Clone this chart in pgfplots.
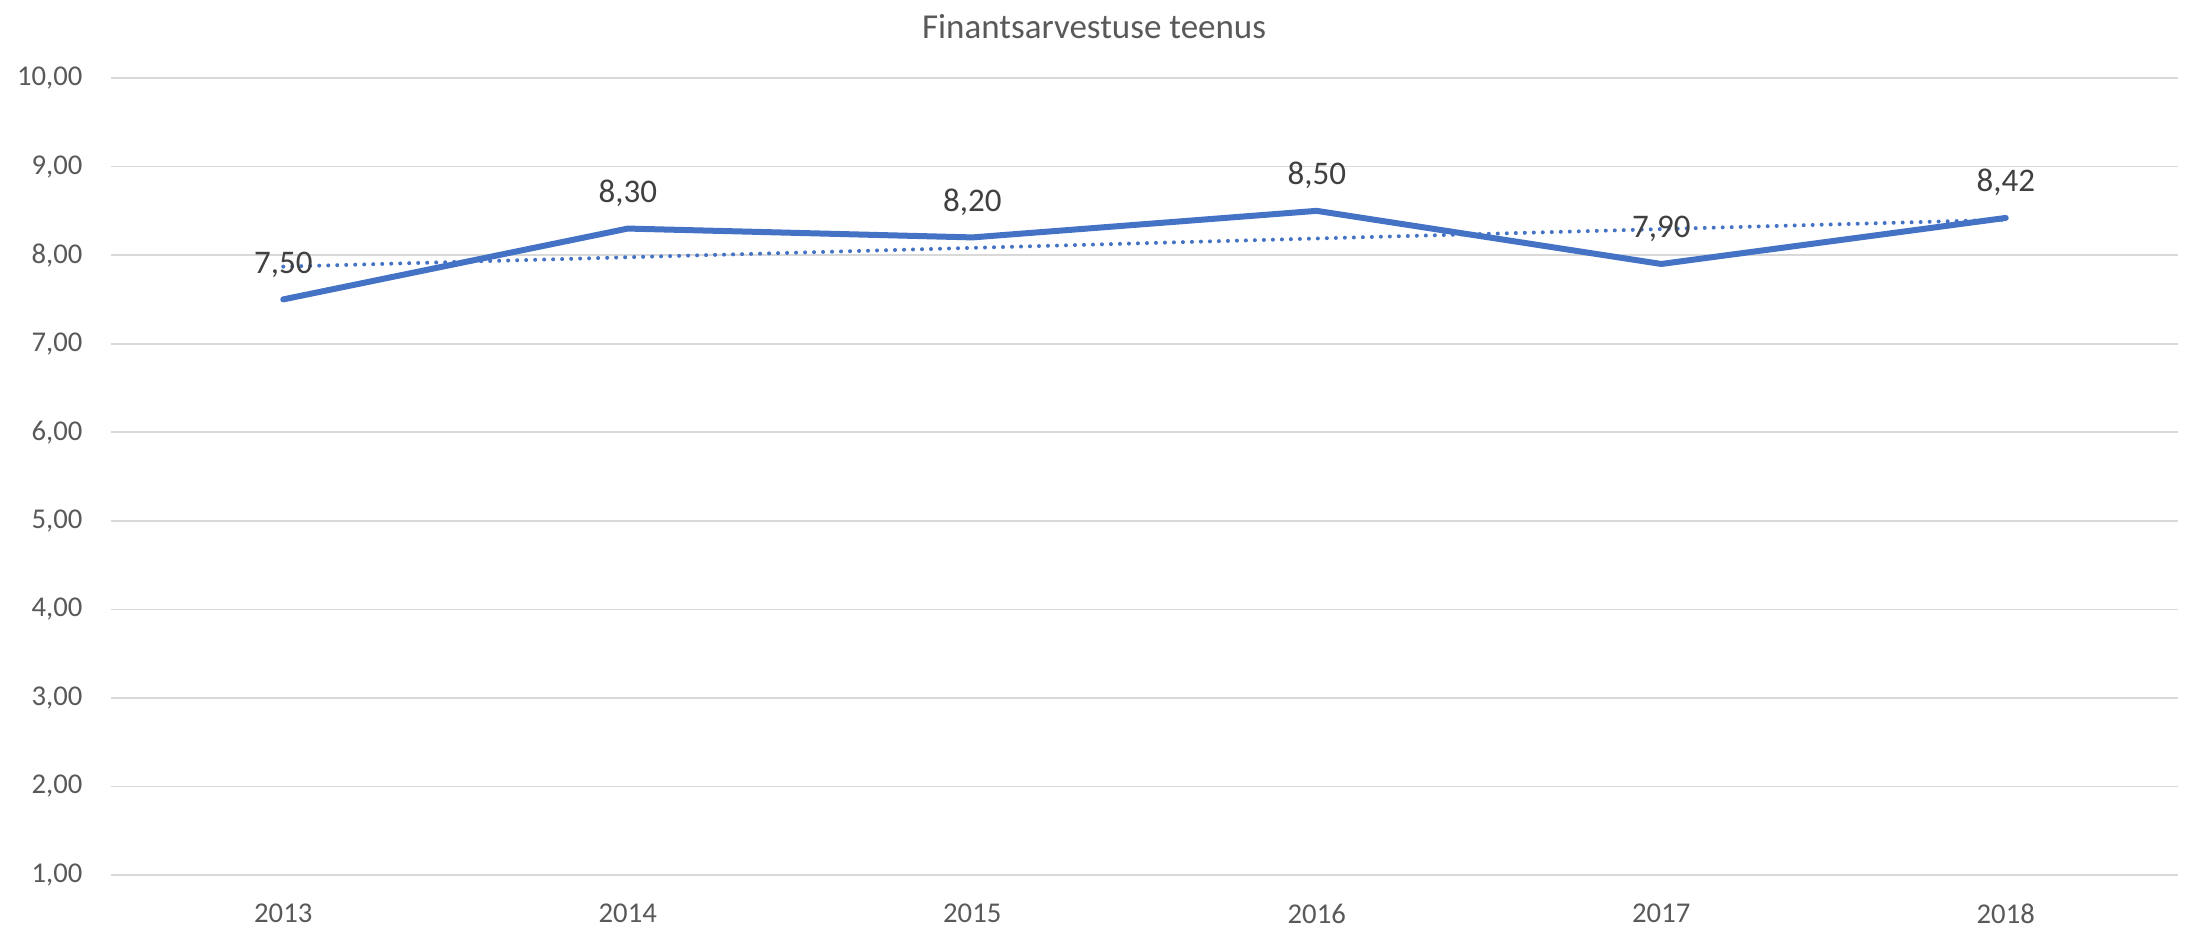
\documentclass[border=0pt]{standalone}
\usepackage{pgfplots}
\pgfplotsset{compat=1.18}
\usepackage{fontspec}
\setmainfont{Carlito}
\definecolor{lineblue}{HTML}{4472C4}
\definecolor{gridgray}{HTML}{D9D9D9}
\definecolor{ticktext}{HTML}{595959}
\definecolor{labeltext}{HTML}{404040}
\begin{document}
\begin{tikzpicture}
\path[use as bounding box] (0,0) rectangle (656.4pt,278.1pt);
\begin{axis}[
  at={(33.3pt,15.6pt)}, anchor=south west,
  scale only axis, width=620.1pt, height=239.1pt,
  xmin=-0.5, xmax=5.5, ymin=1, ymax=10,
  xtick={0,1,2,3,4,5},
  xticklabels={2013,2014,2015,2016,2017,2018},
  ytick={1,2,3,4,5,6,7,8,9,10},
  major tick length=0pt,
  axis line style={draw=none},
  ymajorgrids,
  grid style={gridgray, line width=0.5pt},
  clip=false,
  /pgf/number format/.cd, fixed, fixed zerofill, precision=2, use comma, assume math mode=true,
  /pgfplots/.cd,
  yticklabel style={font=\fontsize{8.6}{10}\selectfont, text=ticktext, anchor=east, inner sep=0pt, xshift=-8.4pt},
  xticklabel style={font=\fontsize{8.6}{10}\selectfont, text=ticktext, anchor=north, inner sep=0pt, yshift=-8.4pt},
]
\addplot[lineblue, line width=1.2pt, line cap=round, dash pattern=on 0pt off 2.7pt]
  coordinates {(0,7.87) (5,8.40)};
\addplot[lineblue, line width=1.8pt, line cap=round, line join=round,
  nodes near coords,
  every node near coord/.append style={anchor=base, yshift=7.8pt, inner sep=0pt, font=\fontsize{9.9}{12}\selectfont, text=labeltext}]
  coordinates {(0,7.50) (1,8.30) (2,8.20) (3,8.50) (4,7.90) (5,8.42)};
\node[anchor=base, inner sep=0pt, font=\fontsize{10.5}{12}\selectfont, text=ticktext]
  at ([yshift=12pt]rel axis cs:0.4756,1) {Finantsarvestuse teenus};
\end{axis}
\end{tikzpicture}
\end{document}
